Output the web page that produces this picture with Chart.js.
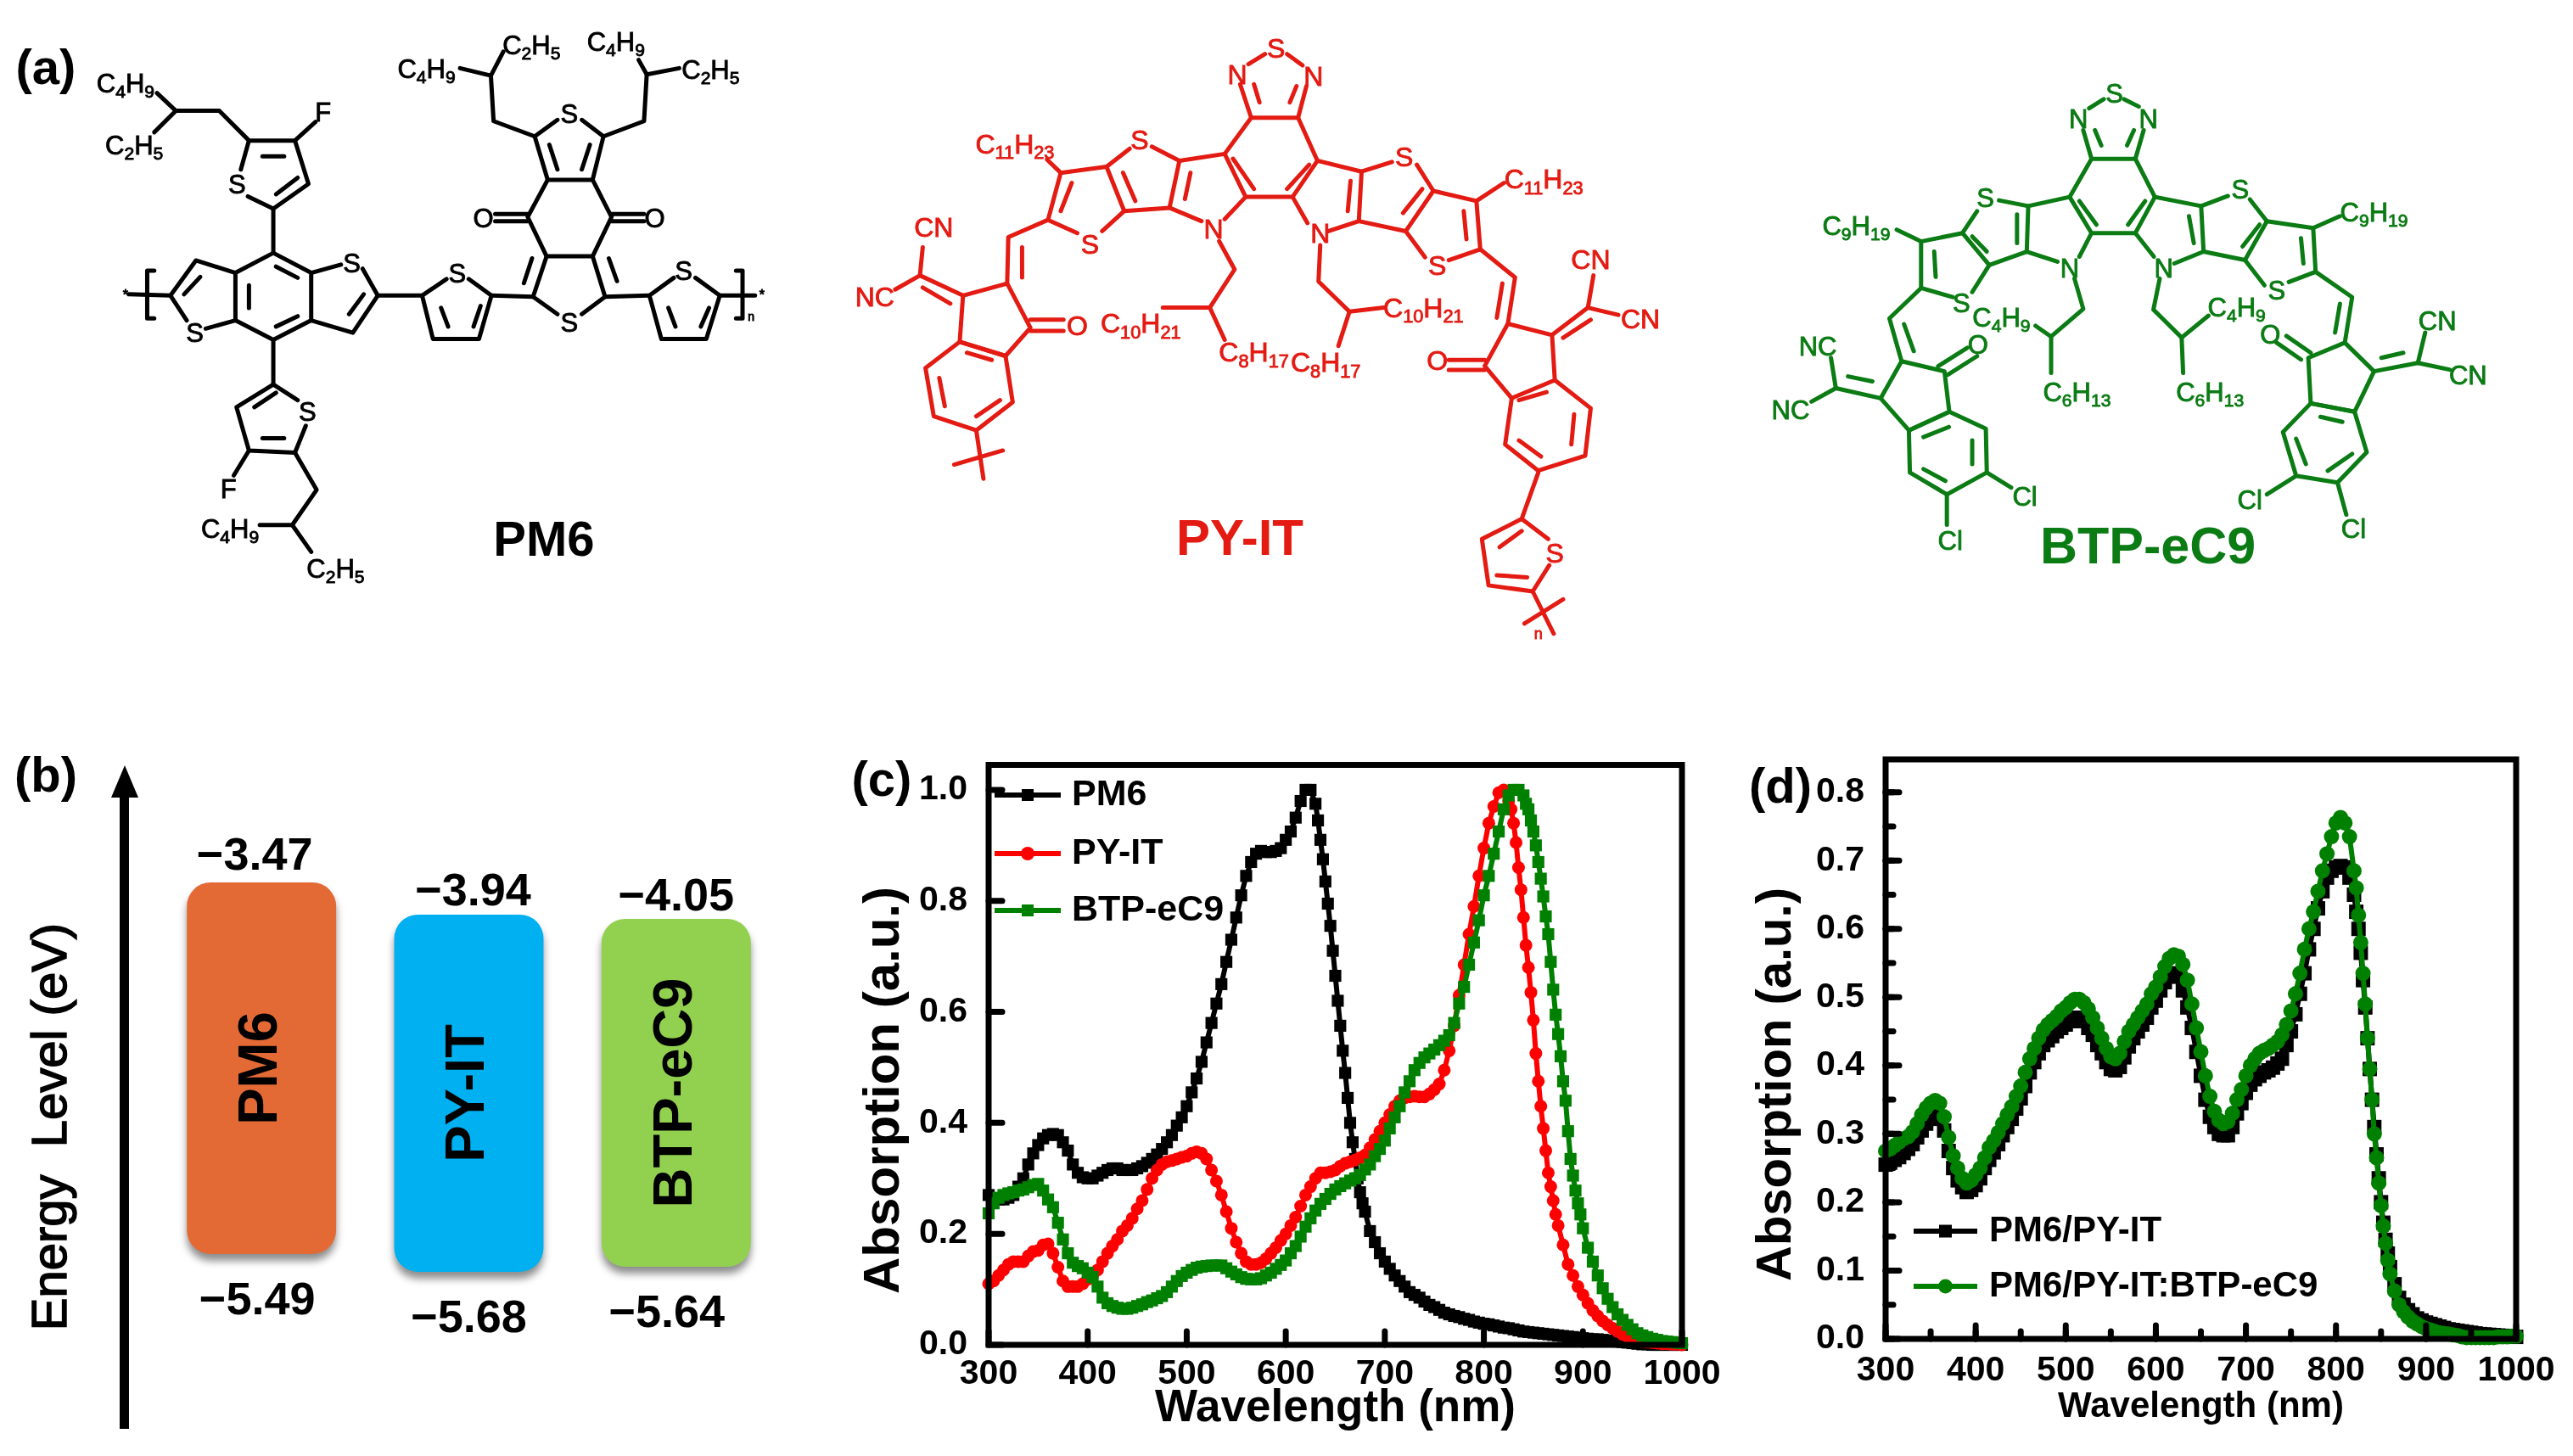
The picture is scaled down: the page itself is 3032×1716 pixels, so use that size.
<!DOCTYPE html>
<html>
<head>
<meta charset="utf-8">
<title>PM6 / PY-IT / BTP-eC9</title>
<script src="https://cdn.jsdelivr.net/npm/chart.js@4/dist/chart.umd.min.js"></script>
<style>
html, body { margin: 0; background: #fff; }
#page { position: relative; width: 3032px; height: 1716px; overflow: hidden; background: #fff; }
canvas, svg { position: absolute; }
</style>
</head>
<body>
<div id="page">
  <canvas id="chartB" width="1000" height="836" style="left:0;top:880px"></canvas>
  <canvas id="chartC" width="1032" height="836" style="left:1000px;top:880px"></canvas>
  <canvas id="chartD" width="992" height="836" style="left:2040px;top:880px"></canvas>
  <svg id="art" width="3032" height="1716" style="left:0;top:0"></svg>
</div>
<script>
// ---- data ----

// (b) energy levels, as printed
const materials = ['PM6', 'PY-IT', 'BTP-eC9'];
const lumoLabels = ['−3.47', '−3.94', '−4.05'];
const homoLabels = ['−5.49', '−5.68', '−5.64'];
// the boxes are a schematic, not to scale: these are the edges as drawn, in eV on PM6's scale
const boxTop = [-3.47, -3.645, -3.668];
const boxBottom = [-5.49, -5.587, -5.56];
const boxColors = ['#E46A35', '#00B0F0', '#92D050'];

// (c) absorption [nm, a.u.]
const pm6Film = [[300,.27],[305,.262],[310,.262],[315,.262],[320,.265],[325,.27],[330,.285],[335,.30],[340,.325],[345,.345],[350,.36],[355,.372],[360,.378],[365,.38],[370,.378],[375,.365],[380,.35],[385,.325],[390,.31],[395,.302],[400,.30],[405,.30],[410,.305],[415,.31],[420,.315],[425,.318],[430,.318],[435,.315],[440,.315],[445,.315],[450,.318],[455,.322],[460,.328],[465,.335],[470,.343],[475,.353],[480,.365],[485,.378],[490,.395],[495,.41],[500,.43],[505,.455],[510,.48],[515,.51],[520,.545],[525,.58],[530,.615],[535,.65],[540,.69],[545,.73],[550,.77],[555,.81],[560,.845],[565,.87],[570,.885],[575,.89],[580,.888],[585,.888],[590,.89],[595,.895],[600,.91],[605,.925],[610,.95],[615,.98],[620,1],[625,1],[630,.975],[632.5,.945],[635,.91],[637.5,.875],[640,.835],[642.5,.795],[645,.755],[647.5,.71],[650,.665],[652.5,.62],[655,.575],[657.5,.53],[660,.49],[662.5,.445],[665,.40],[667.5,.365],[670,.335],[672.5,.30],[675,.275],[677.5,.255],[680,.24],[685,.205],[690,.185],[695,.165],[700,.15],[705,.137],[710,.125],[715,.115],[720,.105],[725,.095],[730,.09],[735,.085],[740,.078],[745,.072],[750,.068],[755,.063],[760,.058],[765,.055],[770,.052],[775,.05],[780,.047],[785,.045],[790,.042],[795,.04],[800,.038],[805,.037],[810,.035],[815,.033],[820,.031],[825,.03],[830,.028],[835,.026],[840,.024],[845,.023],[850,.022],[855,.021],[860,.02],[865,.019],[870,.018],[875,.017],[880,.016],[885,.015],[890,.014],[895,.013],[900,.012],[905,.011],[910,.01],[915,.01],[920,.009],[925,.008],[930,.007],[935,.006],[940,.005],[945,.004],[950,.003],[955,.002],[960,.001],[965,.001],[970,0],[975,0],[980,0],[985,0],[990,0],[995,0],[1000,0]];
const pyitFilm = [[300,.11],[305,.115],[310,.125],[315,.135],[320,.145],[325,.15],[330,.15],[335,.15],[340,.16],[345,.168],[350,.17],[355,.18],[360,.182],[365,.165],[370,.14],[375,.115],[380,.105],[385,.105],[390,.105],[395,.11],[400,.118],[405,.125],[410,.135],[415,.15],[420,.165],[425,.178],[430,.19],[435,.205],[440,.215],[445,.228],[450,.245],[455,.26],[460,.28],[465,.30],[470,.315],[475,.325],[480,.33],[485,.332],[490,.335],[495,.338],[500,.34],[505,.345],[510,.348],[515,.345],[520,.335],[525,.315],[530,.295],[535,.27],[540,.24],[545,.21],[550,.185],[555,.165],[560,.15],[565,.145],[570,.145],[575,.148],[580,.155],[585,.165],[590,.175],[595,.188],[600,.2],[605,.215],[610,.23],[615,.25],[620,.27],[625,.285],[630,.30],[635,.31],[640,.31],[645,.312],[650,.315],[655,.322],[660,.327],[665,.33],[670,.333],[675,.337],[680,.342],[685,.355],[690,.37],[695,.385],[700,.40],[705,.415],[710,.43],[715,.44],[720,.445],[725,.447],[730,.448],[735,.447],[740,.447],[745,.452],[750,.46],[755,.47],[760,.495],[765,.53],[770,.575],[775,.63],[780,.685],[785,.74],[790,.79],[795,.845],[800,.895],[805,.94],[810,.97],[815,.995],[820,1],[825,.98],[827.5,.965],[830,.94],[832.5,.905],[835,.86],[837.5,.82],[840,.77],[842.5,.72],[845,.68],[847.5,.635],[850,.585],[852.5,.525],[855,.475],[857.5,.43],[860,.39],[862.5,.35],[865,.31],[867.5,.285],[870,.26],[872.5,.235],[875,.215],[880,.18],[885,.145],[890,.125],[895,.105],[900,.09],[905,.075],[910,.062],[915,.052],[920,.043],[925,.036],[930,.03],[935,.024],[940,.019],[945,.015],[950,.012],[955,.009],[960,.006],[965,.005],[970,.004],[975,.003],[980,.002],[985,.002],[990,.001],[995,.001],[1000,0]];
const btpFilm = [[300,.237],[305,.255],[310,.265],[315,.27],[320,.273],[325,.275],[330,.278],[335,.28],[340,.284],[345,.288],[350,.29],[355,.278],[360,.262],[365,.248],[370,.22],[375,.19],[380,.165],[385,.148],[390,.142],[395,.138],[400,.13],[405,.122],[410,.105],[415,.085],[420,.075],[425,.07],[430,.067],[435,.065],[440,.065],[445,.067],[450,.07],[455,.073],[460,.077],[465,.08],[470,.084],[475,.088],[480,.095],[485,.105],[490,.115],[495,.124],[500,.13],[505,.135],[510,.139],[515,.141],[520,.142],[525,.143],[530,.143],[535,.143],[540,.138],[545,.132],[550,.127],[555,.122],[560,.119],[565,.118],[570,.118],[575,.12],[580,.125],[585,.13],[590,.137],[595,.144],[600,.152],[605,.165],[610,.178],[615,.195],[620,.213],[625,.228],[630,.242],[635,.254],[640,.263],[645,.272],[650,.28],[655,.286],[660,.291],[665,.296],[670,.3],[675,.306],[680,.316],[685,.325],[690,.34],[695,.353],[700,.368],[705,.39],[710,.41],[715,.43],[720,.455],[725,.475],[730,.495],[735,.508],[740,.518],[745,.525],[750,.532],[755,.54],[760,.548],[765,.558],[770,.58],[775,.615],[780,.645],[785,.685],[790,.725],[795,.765],[800,.81],[805,.845],[810,.885],[815,.925],[820,.965],[825,.99],[830,1],[835,1],[840,.99],[842.5,.975],[845,.965],[847.5,.945],[850,.925],[852.5,.9],[855,.87],[857.5,.84],[860,.808],[862.5,.772],[865,.74],[867.5,.69],[870,.64],[872.5,.595],[875,.56],[877.5,.52],[880,.475],[882.5,.44],[885,.385],[887.5,.335],[890,.305],[892.5,.278],[895,.255],[897.5,.235],[900,.21],[905,.175],[910,.15],[915,.125],[920,.102],[925,.083],[930,.068],[935,.055],[940,.045],[945,.036],[950,.028],[955,.021],[960,.017],[965,.014],[970,.011],[975,.009],[980,.007],[985,.006],[990,.005],[995,.004],[1000,.003]];

// (d) absorption of the blends [nm, a.u.]
const pm6PyitBlend = [[300,.255],[305,.258],[310,.262],[315,.266],[320,.272],[325,.278],[330,.285],[335,.295],[340,.305],[345,.315],[350,.322],[355,.33],[360,.325],[365,.305],[370,.275],[375,.25],[380,.232],[385,.222],[390,.215],[395,.218],[400,.225],[405,.235],[410,.25],[415,.262],[420,.273],[425,.285],[430,.298],[435,.31],[440,.322],[445,.337],[450,.352],[455,.37],[460,.39],[465,.405],[470,.418],[475,.43],[480,.437],[485,.443],[490,.45],[495,.455],[500,.46],[505,.465],[510,.47],[515,.47],[520,.465],[525,.455],[530,.445],[535,.43],[540,.418],[545,.405],[550,.395],[555,.393],[560,.398],[565,.412],[570,.428],[575,.44],[580,.45],[585,.46],[590,.47],[595,.485],[600,.495],[605,.51],[610,.522],[615,.532],[620,.535],[625,.53],[630,.51],[635,.485],[640,.455],[645,.42],[650,.385],[655,.35],[660,.325],[665,.31],[670,.30],[675,.298],[680,.298],[685,.31],[690,.33],[695,.345],[700,.36],[705,.372],[710,.38],[715,.385],[720,.39],[725,.393],[730,.397],[735,.403],[740,.41],[745,.43],[750,.45],[755,.475],[760,.505],[765,.535],[770,.57],[775,.60],[780,.63],[785,.655],[790,.675],[795,.685],[800,.69],[805,.692],[810,.69],[815,.675],[820,.65],[822.5,.625],[825,.60],[827.5,.565],[830,.525],[832.5,.485],[835,.44],[837.5,.395],[840,.35],[842.5,.31],[845,.27],[847.5,.235],[850,.20],[852.5,.17],[855,.145],[857.5,.125],[860,.105],[865,.08],[870,.06],[875,.05],[880,.042],[885,.036],[890,.03],[895,.027],[900,.024],[905,.022],[910,.02],[915,.018],[920,.016],[925,.014],[930,.013],[935,.012],[940,.011],[945,.01],[950,.009],[955,.008],[960,.007],[965,.0065],[970,.006],[975,.0055],[980,.005],[985,.0045],[990,.004],[995,.0035],[1000,.003]];
const ternaryBlend = [[300,.275],[305,.278],[310,.283],[315,.288],[320,.293],[325,.296],[330,.303],[335,.315],[340,.328],[345,.338],[350,.345],[355,.349],[360,.345],[365,.325],[370,.295],[375,.268],[380,.25],[385,.235],[390,.228],[395,.232],[400,.24],[405,.25],[410,.265],[415,.28],[420,.29],[425,.302],[430,.315],[435,.328],[440,.34],[445,.355],[450,.37],[455,.39],[460,.41],[465,.425],[470,.44],[475,.452],[480,.46],[485,.466],[490,.472],[495,.48],[500,.485],[505,.492],[510,.497],[515,.497],[520,.492],[525,.483],[530,.47],[535,.455],[540,.44],[545,.425],[550,.413],[555,.41],[560,.418],[565,.435],[570,.45],[575,.46],[580,.47],[585,.48],[590,.49],[595,.505],[600,.515],[605,.53],[610,.545],[615,.557],[620,.562],[625,.56],[630,.548],[635,.525],[640,.49],[645,.455],[650,.42],[655,.385],[660,.355],[665,.333],[670,.32],[675,.315],[680,.318],[685,.33],[690,.35],[695,.365],[700,.385],[705,.4],[710,.41],[715,.418],[720,.422],[725,.425],[730,.43],[735,.435],[740,.445],[745,.46],[750,.48],[755,.505],[760,.535],[765,.57],[770,.6],[775,.625],[780,.655],[785,.685],[790,.71],[795,.735],[800,.755],[805,.763],[810,.755],[815,.735],[820,.685],[822.5,.66],[825,.62],[827.5,.58],[830,.535],[832.5,.49],[835,.44],[837.5,.395],[840,.35],[842.5,.30],[845,.265],[847.5,.228],[850,.195],[852.5,.165],[855,.14],[857.5,.115],[860,.095],[865,.07],[870,.05],[875,.04],[880,.032],[885,.026],[890,.022],[895,.018],[900,.015],[905,.013],[910,.011],[915,.009],[920,.008],[925,.007],[930,.006],[935,.005],[940,.003],[945,.002],[950,.002],[955,.002],[960,.002],[965,.002],[970,.002],[975,.002],[980,.003],[985,.003],[990,.003],[995,.004],[1000,.004]];

// ---- chart helpers ----
const FONT = '"Liberation Sans", Arial, sans-serif';
const xy = pairs => pairs.map(p => ({ x: p[0], y: p[1] }));

// box round the plot and the inward ticks, taken from the scales
const frameTicks = {
  id: 'frameTicks',
  afterDatasetsDraw(chart, args, o) {
    const { ctx, chartArea: a, scales: { x, y } } = chart;
    ctx.save();
    ctx.strokeStyle = '#000';
    ctx.lineWidth = o.lineWidth;
    ctx.lineCap = 'round';
    const mark = (px, py, dx, dy) => {
      ctx.beginPath(); ctx.moveTo(px, py); ctx.lineTo(px + dx, py + dy); ctx.stroke();
    };
    x.ticks.forEach((t, i) => mark(x.getPixelForTick(i), a.bottom, 0, -o.major));
    y.ticks.forEach((t, i) => mark(a.left, y.getPixelForTick(i), o.major, 0));
    if (o.minorX) {
      for (let v = x.min; v <= x.max; v += o.minorX) mark(x.getPixelForValue(v), a.bottom, 0, -o.minor);
      for (let v = y.min; v <= y.max; v += o.minorY) mark(a.left, y.getPixelForValue(v), o.minor, 0);
    }
    ctx.strokeRect(a.left, a.top, a.right - a.left, a.bottom - a.top);
    ctx.restore();
  }
};

// y title sits lower than the plot centre in the figure so the built in one does not fit
const sideTitle = {
  id: 'sideTitle',
  afterDraw(chart, args, o) {
    const ctx = chart.ctx;
    ctx.save();
    ctx.translate(o.x, o.y);
    ctx.rotate(-Math.PI / 2);
    ctx.font = o.font;
    ctx.fillStyle = '#000';
    ctx.textAlign = 'center';
    ctx.textBaseline = 'middle';
    ctx.fillText(o.text, 0, 0);
    if (o.stroke) {
      ctx.strokeStyle = '#000';
      ctx.lineWidth = o.stroke;
      ctx.strokeText(o.text, 0, 0);
    }
    ctx.restore();
  }
};

const sampleLegend = {
  id: 'sampleLegend',
  afterDraw(chart, args, o) {
    const ctx = chart.ctx;
    ctx.save();
    chart.data.datasets.forEach((ds, i) => {
      const y = o.rows[i];
      ctx.strokeStyle = ds.borderColor;
      ctx.lineWidth = o.lineWidth;
      ctx.beginPath(); ctx.moveTo(o.x0, y); ctx.lineTo(o.x1, y); ctx.stroke();
      ctx.fillStyle = ds.borderColor;
      const cx = (o.x0 + o.x1) / 2;
      if (ds.pointStyle === 'circle') {
        ctx.beginPath(); ctx.arc(cx, y, o.size / 2 + 1, 0, Math.PI * 2); ctx.fill();
      } else {
        ctx.fillRect(cx - o.size / 2, y - o.size / 2, o.size, o.size);
      }
      ctx.fillStyle = '#000';
      ctx.font = o.font;
      ctx.textAlign = 'left';
      ctx.textBaseline = 'middle';
      ctx.fillText(ds.label, o.textX, y);
    });
    ctx.restore();
  }
};

function lineDataset(label, pairs, color, style, radius, width, order) {
  return {
    label: label, data: xy(pairs), borderColor: color, backgroundColor: color,
    borderWidth: width, pointStyle: style, pointRadius: radius, pointBorderWidth: 0,
    tension: 0, order: order, clip: false
  };
}

function spectrumOptions(p) {
  return {
    responsive: false,
    animation: false,
    devicePixelRatio: 1,
    layout: { padding: { left: 0, top: p.top, right: p.right, bottom: 0 } },
    plugins: {
      legend: { display: false },
      tooltip: { enabled: false },
      frameTicks: p.frame,
      sideTitle: p.title,
      sampleLegend: p.legend
    },
    scales: {
      x: {
        type: 'linear', min: 300, max: 1000,
        afterFit: s => { s.height = p.xHeight; },
        grid: { display: false }, border: { display: false },
        ticks: { stepSize: 100, padding: p.tickPadX, maxRotation: 0, autoSkip: false, color: '#000', font: { family: FONT, weight: 'bold', size: 41 }, callback: v => String(v) },
        title: { display: true, text: 'Wavelength (nm)', color: '#000', font: { family: FONT, weight: 'bold', size: p.xTitleSize }, padding: { top: 0, bottom: p.xTitlePad } }
      },
      y: {
        type: 'linear', min: 0, max: p.yMax,
        // tick padding would otherwise push the plot top down past the figure's frame
        afterFit: s => { s.width = p.yWidth; s.paddingTop = 0; s.paddingBottom = 0; },
        grid: { display: false }, border: { display: false },
        ticks: { stepSize: p.yStep, includeBounds: false, padding: 17, color: '#000', font: { family: FONT, weight: 'bold', size: 41 }, callback: v => v.toFixed(1) }
      }
    }
  };
}

// ---- (b) ----
const levelLabels = {
  id: 'levelLabels',
  afterDatasetsDraw(chart) {
    const { ctx, scales: { y } } = chart;
    const bars = chart.getDatasetMeta(0).data;
    ctx.save();
    ctx.fillStyle = '#000';
    ctx.textAlign = 'center';
    ctx.textBaseline = 'middle';
    const topNudge = [-8, 5, 0], botNudge = [-5, 0, -11], topLift = [30, 26, 25];
    materials.forEach((m, i) => {
      const cx = bars[i].x, t = y.getPixelForValue(boxTop[i]), b = y.getPixelForValue(boxBottom[i]);
      ctx.font = 'bold 54px ' + FONT;
      ctx.fillText(lumoLabels[i], cx + topNudge[i], t - topLift[i]);
      ctx.fillText(homoLabels[i], cx + botNudge[i], b + 56);
      ctx.save();
      ctx.translate(cx, (t + b) / 2);
      ctx.rotate(-Math.PI / 2);
      ctx.font = 'bold 65px ' + FONT;
      ctx.fillText(m, 0, 0);
      ctx.restore();
    });
    // energy arrow
    ctx.fillRect(141, 50, 11, 754);
    ctx.beginPath(); ctx.moveTo(147, 22); ctx.lineTo(131, 60); ctx.lineTo(163, 60); ctx.closePath(); ctx.fill();
    ctx.restore();
  }
};
const boxShadow = {
  id: 'boxShadow',
  beforeDatasetsDraw(chart) {
    const ctx = chart.ctx;
    ctx.save();
    ctx.shadowColor = 'rgba(0,0,0,0.45)';
    ctx.shadowBlur = 10;
    ctx.shadowOffsetY = 8;
  },
  afterDatasetsDraw(chart) { chart.ctx.restore(); }
};

new Chart(document.getElementById('chartB'), {
  type: 'bar',
  data: {
    labels: materials,
    datasets: [{
      data: materials.map((m, i) => [boxBottom[i], boxTop[i]]),
      backgroundColor: boxColors,
      borderSkipped: false,
      borderRadius: 28,
      barPercentage: 0.72,
      categoryPercentage: 1
    }]
  },
  options: {
    responsive: false, animation: false, devicePixelRatio: 1,
    layout: { padding: { left: 186, right: 81, top: 60, bottom: 0 } },
    plugins: {
      legend: { display: false }, tooltip: { enabled: false },
      sideTitle: { x: 62, y: 448, text: 'Energy  Level (eV)', font: '58px ' + FONT, stroke: 1.5 }
    },
    scales: {
      x: { display: false },
      y: { display: false, min: -6.588, max: -3.009 }
    }
  },
  plugins: [boxShadow, levelLabels, sideTitle]
});

// ---- (c) ----
new Chart(document.getElementById('chartC'), {
  type: 'line',
  data: { datasets: [
    lineDataset('PM6', pm6Film, '#000000', 'rect', 10, 6, 3),
    lineDataset('PY-IT', pyitFilm, '#FF0000', 'circle', 7.5, 6, 2),
    lineDataset('BTP-eC9', btpFilm, '#008000', 'rect', 10, 6, 1)
  ] },
  options: spectrumOptions({
    top: 21.5, right: 50, xHeight: 131, yWidth: 165, yMax: 1.045, yStep: 0.2,
    tickPadX: 2, xTitleSize: 53, xTitlePad: 24,
    frame: { lineWidth: 7, major: 16 },
    title: { x: 42, y: 405, text: 'Absorption (a.u.)', font: 'bold 60px ' + FONT },
    legend: { x0: 172, x1: 250, rows: [57, 126, 193], lineWidth: 6, size: 14, textX: 263, font: 'bold 43px ' + FONT }
  }),
  plugins: [frameTicks, sideTitle, sampleLegend]
});

// ---- (d) ----
new Chart(document.getElementById('chartD'), {
  type: 'line',
  data: { datasets: [
    lineDataset('PM6/PY-IT', pm6PyitBlend, '#000000', 'rect', 12, 6, 2),
    lineDataset('PM6/PY-IT:BTP-eC9', ternaryBlend, '#008000', 'circle', 9, 6, 1)
  ] },
  options: spectrumOptions({
    top: 15, right: 67, xHeight: 138, yWidth: 182, yMax: 0.848, yStep: 0.1,
    tickPadX: 5, xTitleSize: 42, xTitlePad: 32,
    frame: { lineWidth: 7, major: 16, minor: 9, minorX: 50, minorY: 0.05 },
    title: { x: 54, y: 398, text: 'Absorption (a.u.)', font: 'bold 58px ' + FONT },
    legend: { x0: 215, x1: 290, rows: [571, 636], lineWidth: 6, size: 15, textX: 304, font: 'bold 42px ' + FONT }
  }),
  plugins: [frameTicks, sideTitle, sampleLegend]
});

// ---- (a) structures and panel letters, plain svg ----
const svg = document.getElementById('art');
function el(name, attrs, parent) {
  const e = document.createElementNS('http://www.w3.org/2000/svg', name);
  for (const k in attrs) e.setAttribute(k, attrs[k]);
  (parent || svg).appendChild(e);
  return e;
}
function text(x, y, str, size, color, weight, stroke) {
  // "_" subscripts the next run of digits
  const t = el('text', { x: x, y: y + size * 0.36, 'font-family': FONT, 'font-size': size, 'font-weight': weight || 'normal', fill: color, 'text-anchor': 'middle', stroke: color, 'stroke-width': stroke || 0 });
  let drop = 0;
  str.split(/(_\d+)/).forEach(part => {
    if (!part) return;
    const sub = part[0] === '_';
    const span = el('tspan', { dy: (sub ? size * 0.2 : 0) - drop }, t);
    if (sub) span.setAttribute('font-size', size * 0.68);
    span.textContent = sub ? part.slice(1) : part;
    drop = sub ? size * 0.2 : 0;
  });
}
// bonds and labels are in the coords of a 1568x1560 view of the box
function molecule(box, color, bonds, labels, fs, lw) {
  const sx = box[2] / 1568, sy = box[3] / 1560;
  const g = el('g', { fill: 'none', stroke: color, 'stroke-width': lw, 'stroke-linejoin': 'round', 'stroke-linecap': 'round' });
  bonds.forEach(b => {
    let pts = '';
    for (let i = 0; i < b.length; i += 2) pts += (box[0] + b[i] * sx) + ',' + (box[1] + b[i + 1] * sy) + ' ';
    el('polyline', { points: pts }, g);
  });
  labels.forEach(l => text(box[0] + l[0] * sx, box[1] + l[1] * sy, l[2], l[3] || fs, color, 'normal', 0.9));
}

const pm6Bonds = [
  [290,225,325,268,405,268,460,340],[325,268,285,320],
  [445,410,460,340,545,340,570,445,505,505,458,475],[485,378,525,378],[510,470,550,430],
  [545,340,583,295],[505,505,505,612],
  [505,612,575,660,575,775,505,822,435,775,435,660,505,612],[460,690,460,745],[510,645,550,672],[510,790,550,765],
  [435,660,362,630,315,715,345,775],[435,775,380,795],[340,712,370,670],
  [575,660,630,640],[670,650,698,715,652,805,575,775],[645,760,672,712],
  [285,655,272,655,272,770,285,770],[238,712,315,715],
  [698,715,780,715],
  [825,675,780,715,800,820,885,820,908,715,866,675],[815,745,828,790],[875,790,888,740],
  [908,715,985,718],
  [1030,760,985,718,1010,620,1095,620,1118,718,1075,760],[968,685,983,625],[1140,680,1125,625],
  [1010,620,975,525,1012,435,1095,435,1130,525,1095,620],
  [975,518,915,518],[975,535,915,535],[1130,518,1190,518],[1130,535,1190,535],
  [1030,290,988,330,1012,435],[1075,290,1115,330,1095,435],[1030,410,1015,350],[1075,410,1090,350],
  [988,330,912,293,907,183,850,165],[907,183,930,125],
  [1115,330,1190,293,1195,180,1180,145],[1195,180,1255,165],
  [1118,718,1200,715],
  [1245,672,1200,715,1222,820,1305,820,1330,715,1285,672],[1235,745,1248,790],[1295,790,1310,745],
  [1330,715,1395,715],[1360,655,1372,655,1372,770,1360,770],
  [505,822,505,930],[550,968,505,930,437,985,460,1090,545,1095,565,1030],[485,1060,525,1060],[470,985,510,950],
  [460,1090,432,1150],
  [545,1095,585,1185,540,1270,480,1270],[540,1270,575,1335]
];
const pm6Labels = [
  [232,200,'C_4H_9'],[248,350,'C_2H_5'],[597,270,'F'],[438,445,'S'],[360,805,'S'],[650,635,'S'],[845,660,'S'],
  [1052,780,'S'],[1052,275,'S'],[1263,655,'S'],[568,995,'S'],[893,527,'O'],[1210,527,'O'],
  [788,165,'C_4H_9'],[982,108,'C_2H_5'],[1138,100,'C_4H_9'],[1313,168,'C_2H_5'],
  [422,1182,'F'],[425,1278,'C_4H_9'],[620,1375,'C_2H_5'],[1388,765,'n',14],[232,712,'*',16],[1408,712,'*',16]
];

const pyitBonds = [
  [760,208,845,208,880,315,835,405,750,405,712,298,760,208],[727,310,765,385],[865,325,825,385],
  [760,208,740,125],[755,75,785,50],[825,50,853,78],[860,130,845,208],[775,170,765,125],[830,170,842,130],
  [712,298,630,315,612,432,670,465],[712,460,750,405],[650,345,640,410],
  [630,315,580,280],[540,285,498,330,530,440,612,432],[528,345,550,415],
  [530,440,490,490],[445,495,392,462,415,345,498,330],[415,440,435,370],[415,345,390,312],
  [392,462,320,505,318,620],[345,530,345,605],
  [318,620,238,650,232,765,315,800,360,730,318,620],
  [360,710,420,710],[360,738,420,738],
  [238,650,160,600],[215,670,165,630],[160,600,165,530],[160,600,115,635],
  [232,765,315,800,328,915,262,985,185,950,170,830,232,765],[245,792,290,810],[195,855,205,925],[262,950,305,910],
  [262,985,275,1105],[222,1070,310,1035],
  [702,515,730,585,685,680,600,680],[685,680,712,760],
  [880,315,960,342,955,465,900,490],[862,470,835,405],[940,365,935,440],
  [960,342,1015,318],[1060,325,1090,390,1040,490,955,465],[1070,385,1035,445],
  [1090,390,1168,415,1175,535,1118,562],[1075,555,1040,490],[1145,440,1150,510],[1168,415,1218,370],
  [1175,535,1238,605,1225,720],[1215,620,1205,705],
  [1225,720,1305,748,1310,860,1232,905,1183,825,1225,720],
  [1183,810,1118,810],[1183,835,1118,835],
  [1305,748,1370,680],[1325,755,1375,710],[1370,680,1380,600],[1370,680,1425,698],
  [1310,860,1375,930,1365,1048,1280,1085,1220,1020,1232,905],[1245,910,1295,890],[1345,945,1340,1020],[1245,1010,1285,1050],
  [1280,1090,1250,1205],
  [1298,1255,1250,1205,1178,1255,1190,1370,1270,1385,1300,1320],[1210,1275,1250,1235],[1205,1345,1260,1350],
  [1270,1385,1308,1490],[1255,1465,1325,1405],
  [885,525,882,615,938,690,1000,680],[938,690,918,775]
];
const pyitLabels = [
  [735,100,'N'],[805,35,'S'],[873,105,'N'],[558,262,'S'],[468,522,'S'],[692,483,'N'],[885,495,'N'],
  [1037,305,'S'],[1097,575,'S'],[332,272,'C_11H_23'],[1290,360,'C_11H_23'],
  [185,480,'CN'],[78,652,'NC'],[445,725,'O'],[560,718,'C_10H_21'],[765,790,'C_8H_17'],
  [895,815,'C_8H_17'],[1072,680,'C_10H_21'],[1097,810,'O'],[1375,560,'CN'],[1465,708,'CN'],
  [1310,1290,'S'],[1280,1490,'n',18]
];

const btpBonds = [
  [705,295,795,295,835,408,795,515,705,515,660,408,705,295],[680,420,715,490],[815,420,780,490],
  [705,295,688,210],[700,145,730,118],[772,118,802,140],[812,210,795,295],[725,255,712,210],[778,255,792,210],
  [660,408,575,435,572,570,635,600],[680,585,705,515],[552,460,552,545],
  [575,435,515,418],[470,450,440,515,495,610,572,570],[460,525,490,570],
  [440,515,355,540,355,678,420,705],[460,690,495,610],[382,570,385,645],[355,540,305,505],
  [355,678,290,768,315,895],[320,785,340,865],
  [315,895,272,1005,330,1100,413,1045,403,925,315,895],
  [390,910,450,855],[410,935,470,880],
  [272,1005,180,975],[255,955,205,940],[180,975,170,885],[180,975,130,1015],
  [413,1045,488,1095,490,1225,408,1290,332,1225,330,1100,413,1045],[360,1120,412,1090],[460,1130,460,1200],[360,1215,405,1250],
  [490,1225,540,1270],[408,1290,408,1380],
  [670,650,688,740,622,822,590,790],[622,822,622,930],
  [835,408,930,435,935,570,875,605],[833,585,795,515],[905,465,915,545],
  [930,435,985,405],[1030,415,1065,480,1020,595,935,570],[1050,490,1015,555],
  [1065,480,1160,500,1165,630,1110,660],[1060,670,1020,595],[1135,530,1140,605],[1160,500,1215,465],
  [1165,630,1240,705,1225,840],[1215,725,1205,810],
  [1225,840,1285,925,1245,1045,1155,1020,1150,885,1225,840],
  [1135,890,1085,840],[1155,870,1105,820],
  [1285,925,1375,900],[1300,885,1345,870],[1375,900,1390,810],[1375,900,1440,920],
  [1155,1020,1245,1045,1270,1165,1210,1255,1125,1235,1098,1105,1155,1020],[1175,1060,1220,1075],[1125,1125,1145,1200],[1190,1220,1240,1170],
  [1125,1235,1065,1290],[1210,1255,1228,1350],
  [845,650,832,742,890,825,945,760],[890,825,893,930]
];
const btpLabels = [
  [678,175,'N'],[752,100,'S'],[822,175,'N'],[487,410,'S'],[438,722,'S'],[660,618,'N'],[853,618,'N'],
  [1010,385,'S'],[1085,685,'S'],[222,492,'C_9H_19'],[1285,452,'C_9H_19'],[520,765,'C_4H_9'],[1003,735,'C_4H_9'],
  [675,985,'C_6H_13'],[948,985,'C_6H_13'],[143,850,'NC'],[87,1038,'NC'],[472,845,'O'],[1072,815,'O'],
  [1415,775,'CN'],[1478,935,'CN'],[568,1295,'Cl'],[415,1425,'Cl'],[1030,1305,'Cl'],[1243,1390,'Cl']
];

molecule([0, 0, 1000, 760], '#000000', pm6Bonds, pm6Labels, 31, 5);
molecule([980, 40, 1020, 740], '#E31B13', pyitBonds, pyitLabels, 32, 5);
molecule([2060, 70, 900, 620], '#0B7B14', btpBonds, btpLabels, 31, 5);

text(641, 634, 'PM6', 58, '#000000', 'bold');
text(1461, 632, 'PY-IT', 60, '#E31B13', 'bold');
text(2531, 642, 'BTP-eC9', 61, '#0B7B14', 'bold');

text(54, 78, '(a)', 58, '#000', 'bold');
text(54, 912, '(b)', 58, '#000', 'bold');
text(1039, 917, '(c)', 58, '#000', 'bold');
text(2098, 925, '(d)', 58, '#000', 'bold');
</script>
</body>
</html>
